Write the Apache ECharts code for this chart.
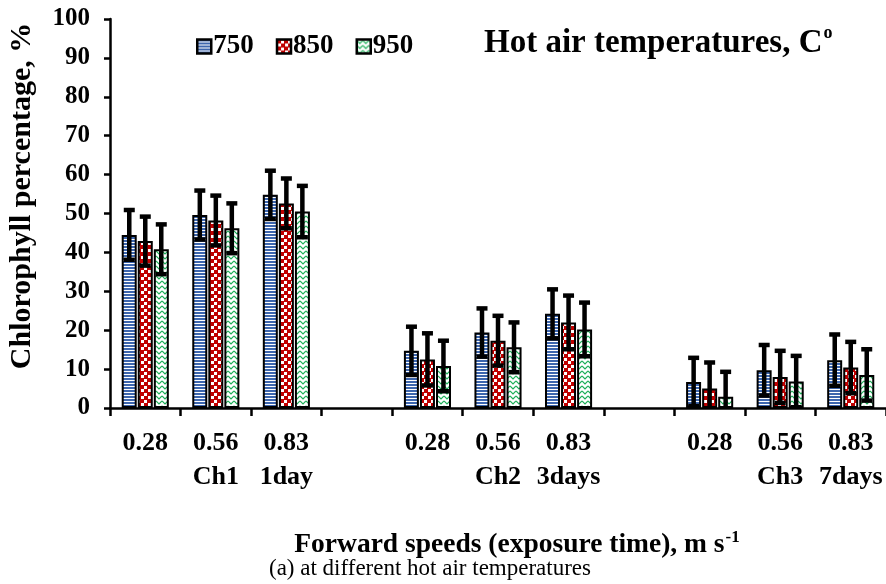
<!DOCTYPE html>
<html>
<head>
<meta charset="utf-8">
<script src="https://cdn.jsdelivr.net/npm/echarts@6/dist/echarts.min.js"></script>
<style>html,body{margin:0;padding:0;background:#fff}#c{width:886px;height:584px}</style>
</head>
<body>
<div id="c"></div>
<script>
const categories = ['0.28', '0.56\nCh1', '0.83\n1day', '', '0.28', '0.56\nCh2', '0.83\n3days', '', '0.28', '0.56\nCh3', '0.83\n7days'];
const seriesNames = ['750', '850', '950'];
const values750 = [44.5, 49.6, 54.8, null, 14.7, 19.4, 24.2, null, 6.7, 9.7, 12.3];
const values850 = [42.9, 48.2, 52.6, null, 12.5, 17.3, 22.0, null, 5.0, 8.0, 10.4];
const values950 = [40.8, 46.2, 50.5, null, 10.8, 15.6, 20.2, null, 2.9, 6.8, 8.5];
const err750 = [6.4, 6.3, 6.2, null, 6.2, 6.2, 6.3, null, 6.2, 6.5, 6.6];
const err850 = [6.3, 6.4, 6.4, null, 6.7, 6.4, 6.9, null, 6.7, 6.7, 6.6];
const err950 = [6.4, 6.4, 6.6, null, 6.5, 6.4, 6.9, null, 6.4, 6.6, 6.6];

const FONT = '"Liberation Serif", "Times New Roman", serif';

function makePattern(kind) {
  const c = document.createElement('canvas');
  let ctx;
  if (kind === 'stripes') {
    c.width = 4; c.height = 3; ctx = c.getContext('2d');
    ctx.fillStyle = '#ffffff'; ctx.fillRect(0, 0, 4, 3);
    ctx.fillStyle = '#3D66AE'; ctx.fillRect(0, 0, 4, 2);
  } else if (kind === 'checker') {
    c.width = 7; c.height = 7; ctx = c.getContext('2d');
    ctx.fillStyle = '#ffffff'; ctx.fillRect(0, 0, 7, 7);
    ctx.fillStyle = '#C00000';
    ctx.fillRect(0, 0, 4, 4); ctx.fillRect(4, 4, 3, 3);
    ctx.fillRect(4, 0, 3, 1); ctx.fillRect(0, 4, 1, 3);
  } else {
    c.width = 6; c.height = 5; ctx = c.getContext('2d');
    ctx.fillStyle = '#ffffff'; ctx.fillRect(0, 0, 6, 5);
    ctx.strokeStyle = '#1FAF5A'; ctx.lineWidth = 1.2;
    ctx.beginPath(); ctx.moveTo(0, 1); ctx.lineTo(3, 4); ctx.lineTo(6, 1); ctx.stroke();
  }
  return { image: c, repeat: 'repeat' };
}

const patterns = [makePattern('stripes'), makePattern('checker'), makePattern('zigzag')];
const allValues = [values750, values850, values950];
const allErrs = [err750, err850, err950];
const offsets = [-16, 0, 16];

const barSeries = seriesNames.map((n, k) => ({
  name: n,
  type: 'bar',
  barWidth: 15,
  barGap: '7%',
  data: allValues[k].map(v => v === null ? '-' : v),
  itemStyle: { color: patterns[k], borderColor: '#000', borderWidth: 2 },
  z: 2
}));

const errSeries = seriesNames.map((n, k) => ({
  name: n + ' err',
  type: 'custom',
  clip: true,
  z: 5,
  data: allValues[k].map((v, i) => v === null ? null : [i, v, allErrs[k][i]]).filter(d => d),
  renderItem: function (params, api) {
    const i = api.value(0), v = api.value(1), e = api.value(2);
    const top = api.coord([i, v + e]);
    const bot = api.coord([i, Math.max(0, v - e)]);
    const x = top[0] + offsets[k];
    const st = { stroke: '#000', lineWidth: 4.5 };
    const ch = [
      { type: 'line', shape: { x1: x, y1: top[1], x2: x, y2: bot[1] }, style: st },
      { type: 'line', shape: { x1: x - 5.5, y1: top[1], x2: x + 5.5, y2: top[1] }, style: st }
    ];
    if (v - e > 0) ch.push({ type: 'line', shape: { x1: x - 5.5, y1: bot[1], x2: x + 5.5, y2: bot[1] }, style: st });
    return { type: 'group', children: ch };
  }
}));

const chart = echarts.init(document.getElementById('c'), null, { renderer: 'canvas' });
chart.setOption({
  animation: false,
  backgroundColor: '#fff',
  grid: { left: 110, right: 0, top: 19, bottom: 176 },
  legend: {
    data: seriesNames,
    left: 191, top: 28,
    icon: 'rect', itemWidth: 14, itemHeight: 14, itemGap: 22,
    itemStyle: { borderColor: '#000', borderWidth: 2.5 },
    textStyle: { fontFamily: FONT, fontWeight: 'bold', fontSize: 27, color: '#000', padding: [0, 0, 0, -3] }
  },
  xAxis: {
    type: 'category',
    data: categories,
    axisLine: { lineStyle: { color: '#000', width: 2.5 } },
    axisTick: { show: true, length: 8, interval: 0, lineStyle: { color: '#000', width: 2.5 } },
    axisLabel: { interval: 0, margin: 18, fontFamily: FONT, fontWeight: 'bold', fontSize: 26, color: '#000', lineHeight: 34 }
  },
  yAxis: {
    type: 'value', min: 0, max: 100, interval: 10,
    axisLine: { show: true, lineStyle: { color: '#000', width: 2.5 } },
    axisTick: { show: true, length: 6, lineStyle: { color: '#000', width: 2.5 } },
    splitLine: { show: false },
    axisLabel: { margin: 20, fontFamily: FONT, fontWeight: 'bold', fontSize: 25, color: '#000' }
  },
  graphic: [
    {
      type: 'text', left: 484, top: 24,
      style: {
        text: '{a|Hot air temperatures, C}{s|o}',
        rich: {
          a: { fontFamily: FONT, fontWeight: 'bold', fontSize: 33, fill: '#000', lineHeight: 38 },
          s: { fontFamily: FONT, fontWeight: 'bold', fontSize: 18, fill: '#000', verticalAlign: 'top', lineHeight: 20, padding: [0, 0, 14, 1] }
        }
      }
    },
    {
      type: 'text', x: 22, y: 196, rotation: Math.PI / 2,
      style: {
        text: 'Chlorophyll percentage, %', align: 'center', verticalAlign: 'middle',
        fontFamily: FONT, fontWeight: 'bold', fontSize: 30, fill: '#000'
      }
    },
    {
      type: 'text', x: 517, y: 545,
      style: {
        text: '{a|Forward speeds (exposure time), m s}{s|-1}', align: 'center', verticalAlign: 'middle',
        rich: {
          a: { fontFamily: FONT, fontWeight: 'bold', fontSize: 27.5, fill: '#000', lineHeight: 32 },
          s: { fontFamily: FONT, fontWeight: 'bold', fontSize: 17, fill: '#000', verticalAlign: 'top', lineHeight: 18, padding: [0, 0, 14, 1] }
        }
      }
    },
    {
      type: 'text', x: 430, y: 569,
      style: {
        text: '(a) at different hot air temperatures', align: 'center', verticalAlign: 'middle',
        fontFamily: FONT, fontSize: 23, fill: '#000'
      }
    }
  ],
  series: barSeries.concat(errSeries)
});
</script>
</body>
</html>
